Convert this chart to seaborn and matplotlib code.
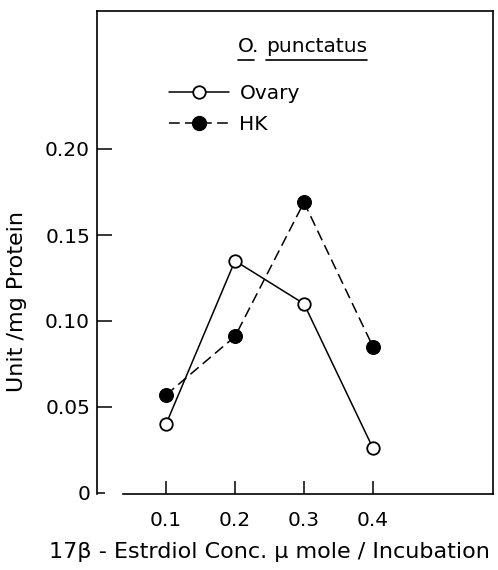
import matplotlib
matplotlib.use("Agg")
import matplotlib.pyplot as plt
import matplotlib.transforms as mtransforms
from matplotlib.lines import Line2D
import seaborn as sns
import pandas as pd

# ---------------- data ----------------
conc = [0.1, 0.2, 0.3, 0.4]
ovary = [0.040, 0.135, 0.110, 0.026]
hk = [0.057, 0.091, 0.169, 0.085]
series_names = ["Ovary", "HK"]
x_ticks = [0.1, 0.2, 0.3, 0.4]
x_tick_labels = ["0.1", "0.2", "0.3", "0.4"]
y_ticks = [0.05, 0.10, 0.15, 0.20]
y_tick_labels = ["0.05", "0.10", "0.15", "0.20"]
title_words = ["O.", "punctatus"]
x_label = "17β - Estrdiol Conc. μ mole / Incubation"
y_label = "Unit /mg Protein"

df = pd.DataFrame({
    "conc": conc + conc,
    "value": ovary + hk,
    "series": [series_names[0]] * len(conc) + [series_names[1]] * len(conc),
})

# ---------------- style ----------------
sns.set_theme(style="white")
plt.rcParams["font.family"] = ["DejaVu Sans"]
plt.rcParams["text.color"] = "black"
FS = 14.5
FS_LAB = 16

W, H = 498, 570
fig = plt.figure(figsize=(W / 100, H / 100), dpi=100)
L, R, T, B = 97, 493, 11, 494
ax = fig.add_axes([L / W, (H - B) / H, (R - L) / W, (B - T) / H])

LW = 1.1
sns.lineplot(data=df[df.series == "Ovary"], x="conc", y="value", ax=ax,
             color="black", lw=LW, marker="o", ms=9, mfc="white",
             mec="black", mew=1.3, legend=False, errorbar=None)
sns.lineplot(data=df[df.series == "HK"], x="conc", y="value", ax=ax,
             color="black", lw=LW, linestyle=(0, (7, 3.5)), marker="o",
             ms=10, mfc="black", mec="black", legend=False, errorbar=None)

# ---------------- axes ----------------
px_per_x = 690.0   # pixels per 1.0 x-unit
px_per_y = 1720.0  # pixels per 1.0 y-unit
ax.set_xlim(0, (R - L) / px_per_x)
ax.set_ylim(-1 / px_per_y, (493 - T) / px_per_y)

for s in ax.spines.values():
    s.set_color("black")
    s.set_linewidth(1.2)
ax.spines["bottom"].set_bounds(0.038, (R - L) / px_per_x)

ax.set_xticks(x_ticks)
ax.set_xticklabels(x_tick_labels)
ax.set_yticks(y_ticks)
ax.set_yticklabels(y_tick_labels)
ax.set_yticks([0], minor=True)
ax.set_yticklabels(["0"], minor=True)
ax.tick_params(axis="x", which="major", direction="in", length=9.5, width=1.1,
               pad=12, labelsize=FS, colors="black", bottom=True)
ax.tick_params(axis="y", which="major", direction="in", length=11, width=1.1,
               pad=5, labelsize=FS, colors="black", left=True)
ax.tick_params(axis="y", which="minor", direction="in", length=6, width=1.1,
               pad=5, labelsize=FS, colors="black", left=True)
ax.set_xlabel("")
ax.set_ylabel("")

# ---------------- legend ----------------
handles = [
    Line2D([], [], color="black", lw=LW, marker="o", ms=9, mfc="white",
           mec="black", mew=1.3),
    Line2D([], [], color="black", lw=LW, linestyle=(0, (7, 3.5)), marker="o",
           ms=10, mfc="black", mec="black"),
]
ax.legend(handles, series_names, loc="upper left",
          bbox_to_anchor=((169 - L) / (R - L), 1 - (84 - T) / (B - T)),
          frameon=False, borderpad=0, borderaxespad=0, handlelength=3.0,
          handletextpad=0.5, labelspacing=0.6, fontsize=FS, numpoints=1,
          labelcolor="black")

# ---------------- underlined title ----------------
base_y = 1 - (52 - T) / (B - T)
t1 = ax.text((238 - L) / (R - L), base_y, title_words[0], transform=ax.transAxes,
             fontsize=FS, va="baseline", ha="left", color="black")
t2 = ax.text((266 - L) / (R - L), base_y, title_words[1], transform=ax.transAxes,
             fontsize=FS, va="baseline", ha="left", color="black")
fig.canvas.draw()
rend = fig.canvas.get_renderer()
tmp = ax.text((238 - L) / (R - L), base_y, title_words[0][0], transform=ax.transAxes,
              fontsize=FS, va="baseline", ha="left")
b0 = tmp.get_window_extent(rend)
tmp.remove()
b2 = t2.get_window_extent(rend)
base_disp = ax.transAxes.transform((0, base_y))[1]
uy = base_disp - 8
ident = mtransforms.IdentityTransform()
fig.add_artist(Line2D([b0.x0, b0.x1], [uy, uy], color="black", lw=1.2, transform=ident))
fig.add_artist(Line2D([b2.x0, b2.x1], [uy, uy], color="black", lw=1.2, transform=ident))

# ---------------- axis titles ----------------
fig.text(269 / W, (H - 552) / H, x_label, ha="center", va="center",
         fontsize=FS_LAB, color="black")
fig.text(17 / W, (H - 302) / H, y_label, ha="center", va="center",
         rotation=90, fontsize=FS_LAB, color="black")

fig.savefig("out.png", dpi=100)
